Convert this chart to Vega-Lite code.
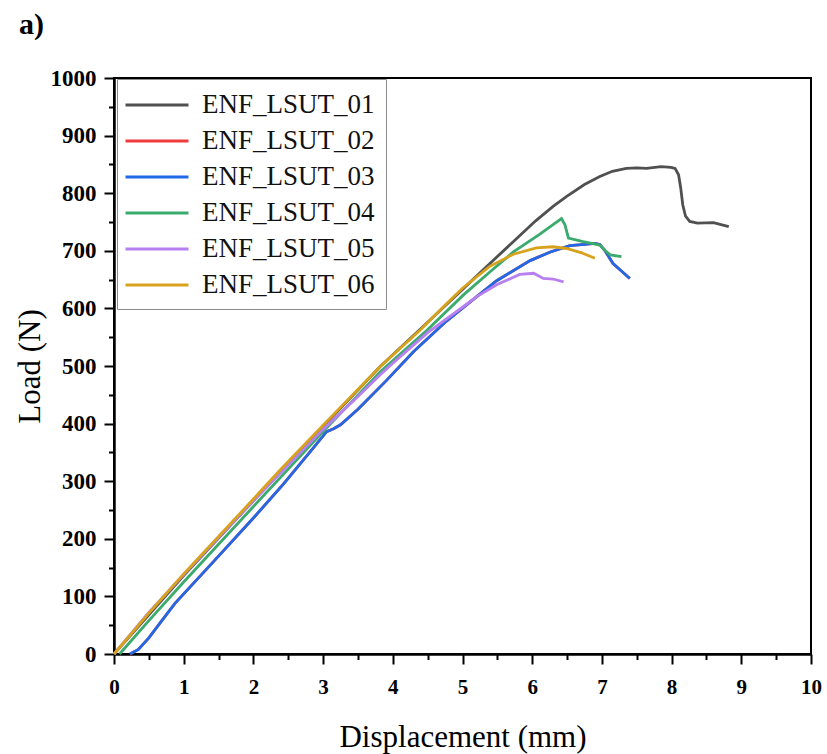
{
  "$schema": "https://vega.github.io/schema/vega-lite/v6.json",
  "width": 697,
  "height": 576,
  "autosize": {"type": "none"},
  "padding": {"left": 114, "top": 78, "right": 16, "bottom": 100},
  "background": "white",
  "title": {
    "text": "a)",
    "anchor": "start",
    "frame": "group",
    "dx": -95,
    "offset": 27,
    "font": "Liberation Serif",
    "fontSize": 30,
    "fontWeight": "bold",
    "color": "black"
  },
  "config": {
    "view": {"stroke": "black", "strokeWidth": 2},
    "axis": {
      "domainColor": "black",
      "domainWidth": 2.5,
      "tickColor": "black",
      "tickWidth": 2,
      "grid": false,
      "labelFont": "Liberation Serif",
      "labelFontWeight": "bold",
      "labelColor": "black",
      "titleFont": "Liberation Serif",
      "titleFontWeight": "normal",
      "titleColor": "black",
      "titleFontSize": 31
    }
  },
  "data": {
    "values": [
      {"s": "ENF_LSUT_01", "x": 0, "y": 0},
      {"s": "ENF_LSUT_01", "x": 0.5, "y": 68},
      {"s": "ENF_LSUT_01", "x": 1, "y": 136},
      {"s": "ENF_LSUT_01", "x": 2, "y": 266},
      {"s": "ENF_LSUT_01", "x": 3, "y": 395},
      {"s": "ENF_LSUT_01", "x": 3.82, "y": 499},
      {"s": "ENF_LSUT_01", "x": 4.5, "y": 576},
      {"s": "ENF_LSUT_01", "x": 5, "y": 633},
      {"s": "ENF_LSUT_01", "x": 5.5, "y": 690},
      {"s": "ENF_LSUT_01", "x": 6.05, "y": 752},
      {"s": "ENF_LSUT_01", "x": 6.3, "y": 777},
      {"s": "ENF_LSUT_01", "x": 6.49, "y": 794},
      {"s": "ENF_LSUT_01", "x": 6.75, "y": 815},
      {"s": "ENF_LSUT_01", "x": 6.97, "y": 829},
      {"s": "ENF_LSUT_01", "x": 7.15, "y": 838},
      {"s": "ENF_LSUT_01", "x": 7.35, "y": 843},
      {"s": "ENF_LSUT_01", "x": 7.5, "y": 844},
      {"s": "ENF_LSUT_01", "x": 7.64, "y": 843},
      {"s": "ENF_LSUT_01", "x": 7.85, "y": 846},
      {"s": "ENF_LSUT_01", "x": 7.99, "y": 845},
      {"s": "ENF_LSUT_01", "x": 8.05, "y": 843},
      {"s": "ENF_LSUT_01", "x": 8.1, "y": 832},
      {"s": "ENF_LSUT_01", "x": 8.13, "y": 810},
      {"s": "ENF_LSUT_01", "x": 8.16, "y": 780},
      {"s": "ENF_LSUT_01", "x": 8.2, "y": 760},
      {"s": "ENF_LSUT_01", "x": 8.26, "y": 751},
      {"s": "ENF_LSUT_01", "x": 8.37, "y": 748},
      {"s": "ENF_LSUT_01", "x": 8.6, "y": 749},
      {"s": "ENF_LSUT_01", "x": 8.82, "y": 742},

      {"s": "ENF_LSUT_02", "x": 0.23, "y": 0},
      {"s": "ENF_LSUT_02", "x": 0.35, "y": 8},
      {"s": "ENF_LSUT_02", "x": 0.5, "y": 28},
      {"s": "ENF_LSUT_02", "x": 0.7, "y": 60},
      {"s": "ENF_LSUT_02", "x": 0.875, "y": 88},
      {"s": "ENF_LSUT_02", "x": 1.5, "y": 170},
      {"s": "ENF_LSUT_02", "x": 2, "y": 236},
      {"s": "ENF_LSUT_02", "x": 2.43, "y": 295},
      {"s": "ENF_LSUT_02", "x": 2.86, "y": 358},
      {"s": "ENF_LSUT_02", "x": 3.05, "y": 386},
      {"s": "ENF_LSUT_02", "x": 3.15, "y": 391},
      {"s": "ENF_LSUT_02", "x": 3.25, "y": 398},
      {"s": "ENF_LSUT_02", "x": 3.5, "y": 425},
      {"s": "ENF_LSUT_02", "x": 3.91, "y": 475},
      {"s": "ENF_LSUT_02", "x": 4.3, "y": 525},
      {"s": "ENF_LSUT_02", "x": 4.77, "y": 578},
      {"s": "ENF_LSUT_02", "x": 5.2, "y": 620},
      {"s": "ENF_LSUT_02", "x": 5.49, "y": 648},
      {"s": "ENF_LSUT_02", "x": 5.97, "y": 683},
      {"s": "ENF_LSUT_02", "x": 6.26, "y": 698},
      {"s": "ENF_LSUT_02", "x": 6.54, "y": 709},
      {"s": "ENF_LSUT_02", "x": 6.75, "y": 711},
      {"s": "ENF_LSUT_02", "x": 6.9, "y": 713},
      {"s": "ENF_LSUT_02", "x": 6.97, "y": 711},
      {"s": "ENF_LSUT_02", "x": 7.04, "y": 701},
      {"s": "ENF_LSUT_02", "x": 7.16, "y": 678},
      {"s": "ENF_LSUT_02", "x": 7.28, "y": 665},
      {"s": "ENF_LSUT_02", "x": 7.4, "y": 652},

      {"s": "ENF_LSUT_03", "x": 0.23, "y": 0},
      {"s": "ENF_LSUT_03", "x": 0.35, "y": 8},
      {"s": "ENF_LSUT_03", "x": 0.5, "y": 28},
      {"s": "ENF_LSUT_03", "x": 0.7, "y": 60},
      {"s": "ENF_LSUT_03", "x": 0.875, "y": 88},
      {"s": "ENF_LSUT_03", "x": 1.5, "y": 170},
      {"s": "ENF_LSUT_03", "x": 2, "y": 236},
      {"s": "ENF_LSUT_03", "x": 2.43, "y": 295},
      {"s": "ENF_LSUT_03", "x": 2.86, "y": 358},
      {"s": "ENF_LSUT_03", "x": 3.05, "y": 386},
      {"s": "ENF_LSUT_03", "x": 3.15, "y": 391},
      {"s": "ENF_LSUT_03", "x": 3.25, "y": 398},
      {"s": "ENF_LSUT_03", "x": 3.5, "y": 425},
      {"s": "ENF_LSUT_03", "x": 3.91, "y": 475},
      {"s": "ENF_LSUT_03", "x": 4.3, "y": 525},
      {"s": "ENF_LSUT_03", "x": 4.77, "y": 578},
      {"s": "ENF_LSUT_03", "x": 5.2, "y": 620},
      {"s": "ENF_LSUT_03", "x": 5.49, "y": 648},
      {"s": "ENF_LSUT_03", "x": 5.97, "y": 683},
      {"s": "ENF_LSUT_03", "x": 6.26, "y": 698},
      {"s": "ENF_LSUT_03", "x": 6.54, "y": 709},
      {"s": "ENF_LSUT_03", "x": 6.75, "y": 711},
      {"s": "ENF_LSUT_03", "x": 6.9, "y": 713},
      {"s": "ENF_LSUT_03", "x": 6.97, "y": 711},
      {"s": "ENF_LSUT_03", "x": 7.04, "y": 701},
      {"s": "ENF_LSUT_03", "x": 7.16, "y": 678},
      {"s": "ENF_LSUT_03", "x": 7.28, "y": 665},
      {"s": "ENF_LSUT_03", "x": 7.4, "y": 652},

      {"s": "ENF_LSUT_04", "x": 0.08, "y": 0},
      {"s": "ENF_LSUT_04", "x": 0.5, "y": 58},
      {"s": "ENF_LSUT_04", "x": 1, "y": 125},
      {"s": "ENF_LSUT_04", "x": 2, "y": 256},
      {"s": "ENF_LSUT_04", "x": 3, "y": 386},
      {"s": "ENF_LSUT_04", "x": 3.82, "y": 490},
      {"s": "ENF_LSUT_04", "x": 4.49, "y": 562},
      {"s": "ENF_LSUT_04", "x": 5.01, "y": 623},
      {"s": "ENF_LSUT_04", "x": 5.4, "y": 664},
      {"s": "ENF_LSUT_04", "x": 5.73, "y": 698},
      {"s": "ENF_LSUT_04", "x": 6.1, "y": 728},
      {"s": "ENF_LSUT_04", "x": 6.42, "y": 756},
      {"s": "ENF_LSUT_04", "x": 6.47, "y": 745},
      {"s": "ENF_LSUT_04", "x": 6.52, "y": 722},
      {"s": "ENF_LSUT_04", "x": 6.73, "y": 716},
      {"s": "ENF_LSUT_04", "x": 6.97, "y": 710},
      {"s": "ENF_LSUT_04", "x": 7.05, "y": 700},
      {"s": "ENF_LSUT_04", "x": 7.12, "y": 693},
      {"s": "ENF_LSUT_04", "x": 7.28, "y": 690},

      {"s": "ENF_LSUT_05", "x": 0, "y": 0},
      {"s": "ENF_LSUT_05", "x": 0.5, "y": 72},
      {"s": "ENF_LSUT_05", "x": 1, "y": 138},
      {"s": "ENF_LSUT_05", "x": 2, "y": 266},
      {"s": "ENF_LSUT_05", "x": 3, "y": 390},
      {"s": "ENF_LSUT_05", "x": 3.5, "y": 447},
      {"s": "ENF_LSUT_05", "x": 3.82, "y": 485},
      {"s": "ENF_LSUT_05", "x": 4, "y": 505},
      {"s": "ENF_LSUT_05", "x": 4.5, "y": 558},
      {"s": "ENF_LSUT_05", "x": 5, "y": 602},
      {"s": "ENF_LSUT_05", "x": 5.2, "y": 620},
      {"s": "ENF_LSUT_05", "x": 5.49, "y": 641},
      {"s": "ENF_LSUT_05", "x": 5.82, "y": 659},
      {"s": "ENF_LSUT_05", "x": 6.02, "y": 661},
      {"s": "ENF_LSUT_05", "x": 6.16, "y": 652},
      {"s": "ENF_LSUT_05", "x": 6.3, "y": 651},
      {"s": "ENF_LSUT_05", "x": 6.45, "y": 646},

      {"s": "ENF_LSUT_06", "x": 0, "y": 0},
      {"s": "ENF_LSUT_06", "x": 0.5, "y": 71},
      {"s": "ENF_LSUT_06", "x": 1, "y": 139},
      {"s": "ENF_LSUT_06", "x": 2, "y": 269},
      {"s": "ENF_LSUT_06", "x": 2.38, "y": 319},
      {"s": "ENF_LSUT_06", "x": 3, "y": 397},
      {"s": "ENF_LSUT_06", "x": 3.82, "y": 499},
      {"s": "ENF_LSUT_06", "x": 4.39, "y": 562},
      {"s": "ENF_LSUT_06", "x": 4.77, "y": 608},
      {"s": "ENF_LSUT_06", "x": 5, "y": 635},
      {"s": "ENF_LSUT_06", "x": 5.39, "y": 673},
      {"s": "ENF_LSUT_06", "x": 5.73, "y": 694},
      {"s": "ENF_LSUT_06", "x": 6.06, "y": 705},
      {"s": "ENF_LSUT_06", "x": 6.3, "y": 707},
      {"s": "ENF_LSUT_06", "x": 6.49, "y": 704},
      {"s": "ENF_LSUT_06", "x": 6.7, "y": 697},
      {"s": "ENF_LSUT_06", "x": 6.9, "y": 687}
    ]
  },
  "layer": [
    {
      "mark": {"type": "line", "strokeWidth": 2.8},
      "encoding": {
        "x": {
          "field": "x",
          "type": "quantitative",
          "scale": {"domain": [0, 10], "nice": false, "zero": false},
          "axis": {
            "orient": "bottom",
            "title": "Displacement (mm)",
            "values": [0, 1, 2, 3, 4, 5, 6, 7, 8, 9, 10],
            "format": "d",
            "labelFontSize": 21,
            "labelPadding": 12,
            "labelFlush": false,
            "tickSize": 10,
            "titlePadding": 25,
            "encode": {"ticks": {"update": {"y": {"value": -10}}}}
          }
        },
        "y": {
          "field": "y",
          "type": "quantitative",
          "scale": {"domain": [0, 1000], "nice": false},
          "axis": {
            "orient": "left",
            "title": "Load (N)",
            "values": [0, 100, 200, 300, 400, 500, 600, 700, 800, 900, 1000],
            "format": "d",
            "labelFontSize": 23,
            "labelPadding": 8,
            "labelFlush": false,
            "tickSize": 10,
            "titlePadding": 4,
            "encode": {"ticks": {"update": {"x": {"value": 10}}}}
          }
        },
        "color": {
          "field": "s",
          "type": "nominal",
          "scale": {
            "domain": ["ENF_LSUT_01", "ENF_LSUT_02", "ENF_LSUT_03", "ENF_LSUT_04", "ENF_LSUT_05", "ENF_LSUT_06"],
            "range": ["#505050", "#ef3b3b", "#2169e6", "#3aab6c", "#b77ff0", "#d9a21d"]
          },
          "legend": {
            "title": null,
            "orient": "none",
            "legendX": 3,
            "legendY": 1,
            "symbolType": "M-2.333,0H2.333",
            "symbolSize": 729,
            "symbolStrokeWidth": 3,
            "symbolOffset": 14,
            "labelFont": "Liberation Serif",
            "labelFontSize": 27,
            "labelColor": "#111111",
            "labelLimit": 0,
            "labelOffset": 30,
            "rowPadding": 8,
            "padding": 11,
            "strokeColor": "#8c8c8c",
            "fillColor": "white"
          }
        }
      }
    },
    {
      "mark": {"type": "line", "opacity": 0},
      "encoding": {
        "x": {
          "field": "x",
          "type": "quantitative",
          "scale": {"domain": [0, 10], "nice": false, "zero": false},
          "axis": {
            "orient": "bottom",
            "title": null,
            "values": [0.5, 1.5, 2.5, 3.5, 4.5, 5.5, 6.5, 7.5, 8.5, 9.5],
            "labels": false,
            "domain": false,
            "tickSize": 5.5,
            "encode": {"ticks": {"update": {"y": {"value": -5.5}}}}
          }
        },
        "y": {
          "field": "y",
          "type": "quantitative",
          "scale": {"domain": [0, 1000], "nice": false},
          "axis": {
            "orient": "left",
            "title": null,
            "values": [50, 150, 250, 350, 450, 550, 650, 750, 850, 950],
            "labels": false,
            "domain": false,
            "tickSize": 5.5,
            "encode": {"ticks": {"update": {"x": {"value": 5.5}}}}
          }
        },
        "detail": {"field": "s", "type": "nominal"}
      }
    }
  ],
  "resolve": {"axis": {"x": "independent", "y": "independent"}}
}
